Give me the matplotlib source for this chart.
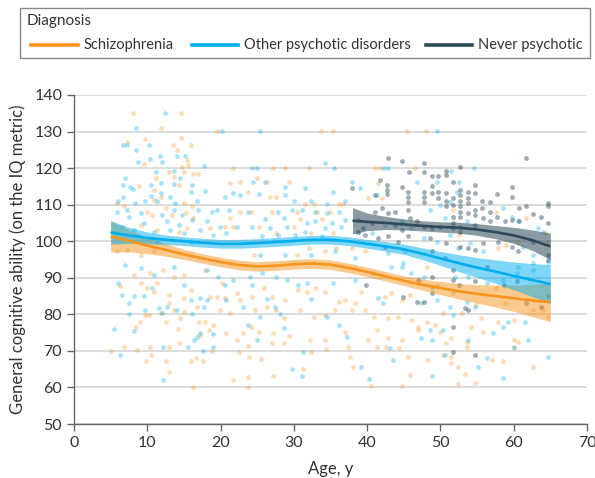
import matplotlib
matplotlib.use("Agg")
import matplotlib.pyplot as plt
from matplotlib.lines import Line2D
from matplotlib.patches import Rectangle

plt.rcParams['font.family'] = ['Lato', 'DejaVu Sans']

# ---------------- data ----------------
schiz_age = [8.0, 14.6, 11.9, 9.65, 14.6, 7.3, 13.5, 15.9, 14.0, 15.4, 15.6, 9.6, 14.8, 13.0, 15.0, 16.2, 16.9, 11.2,
             13.6, 14.3, 10.9, 8.9, 21.3, 22.7, 21.7, 19.5, 10.9, 11.9, 15.0, 16.1, 15.3, 10.6, 10.0, 6.8, 5.9, 12.5,
             13.4, 16.3, 9.1, 11.3, 14.3, 15.4, 22.7, 21.3, 20.6, 18.6, 21.7, 5.9, 7.2, 9.1, 10.9,
             5.0, 6.8, 8.6, 9.8, 10.5, 10.4, 12.9, 12.5, 13.0, 16.2, 15.9, 16.7, 17.6, 18.8, 21.7, 22.5, 20.8, 22.2,
             14.3, 14.2, 12.6, 9.0, 8.5, 6.3, 9.7, 11.9, 13.6, 14.5, 15.0, 17.1, 17.9, 18.4, 19.0, 17.2, 19.9, 21.3,
             22.7, 19.5, 16.8, 18.6, 15.0, 12.9, 12.9, 10.9, 10.0, 10.2, 12.2, 10.4, 9.1, 11.3, 8.2, 15.9, 13.6, 15.0,
             17.9, 20.2, 22.2, 23.1, 20.6,
             33.7, 35.3, 45.5, 27.2, 28.8, 32.0, 41.1, 41.7, 46.5, 25.0, 26.3, 29.3, 41.5, 23.8, 26.8, 27.5, 31.5,
             32.7, 36.1, 36.7, 42.0, 40.1, 24.1, 27.0, 30.4, 33.1, 34.9, 25.2, 30.0, 30.9, 33.8, 27.5, 32.4, 35.4,
             32.0, 35.8, 37.9, 24.5, 30.4, 34.3, 39.7,
             24.3, 25.9, 27.0, 28.8, 30.6, 31.8, 32.9, 34.3, 36.1, 37.0, 38.3, 39.2, 42.4, 43.3, 44.7, 45.8, 24.7,
             26.3, 27.5, 30.9, 32.7, 34.3, 35.6, 37.9, 39.7, 41.0, 42.9, 44.2, 46.0, 28.6, 24.1, 25.2, 27.2, 29.3,
             32.2, 34.3, 37.0, 40.1, 41.3, 42.9, 44.7, 23.8, 27.0, 28.6, 32.4, 34.4, 37.4, 41.4, 42.6, 44.4, 23.9,
             25.5, 31.3, 37.6, 38.1, 23.7, 27.2, 23.8, 40.5, 44.7, 45.9, 45.6,
             48.0, 51.7, 57.6, 61.7, 59.0, 57.9, 60.6, 64.4, 64.7, 52.6,
             48.1, 47.2, 49.5, 51.7, 54.9, 57.6, 58.8, 62.6, 64.0, 50.4, 52.9, 55.6, 57.9, 60.0, 47.0, 48.1, 49.3,
             49.9, 51.5, 53.6, 54.2, 55.8, 60.0, 60.1, 60.6, 50.8, 53.6, 50.4, 48.1, 51.5, 57.0, 58.5, 51.5, 52.4,
             62.6, 53.3, 52.4, 54.7, 64.7, 47.0]
schiz_iq = [135.0, 135.0, 130.9, 128.1, 128.3, 127.2, 126.3, 126.3, 125.0, 122.2, 120.9, 121.1, 120.2, 119.0, 119.0,
            118.4, 118.4, 117.2, 117.7, 115.4, 114.0, 115.2, 115.8, 116.1, 120.1, 130.2, 111.3, 112.2, 110.4, 109.5,
            107.6, 107.2, 108.0, 109.5, 110.4, 109.0, 107.2, 106.3, 104.4, 103.1, 102.6, 103.5, 108.0, 106.3, 104.0,
            103.5, 104.0, 97.2, 97.6, 96.3, 97.2,
            70.1, 71.0, 70.3, 67.1, 68.9, 71.0, 64.1, 67.1, 71.0, 60.1, 67.1, 68.0, 67.1, 70.1, 62.1, 69.6, 75.0,
            73.0, 72.1, 75.9, 78.0, 78.0, 76.6, 87.8, 79.8, 80.3, 81.2, 78.9, 80.7, 78.0, 78.0, 75.7, 77.1, 74.4,
            81.2, 80.3, 83.9, 84.8, 82.1, 84.8, 84.4, 85.3, 83.0, 86.2, 87.1, 79.8, 92.1, 91.2, 88.5, 88.5, 90.8,
            86.7, 90.3, 90.8, 92.1, 88.5, 85.8, 74.8, 84.4,
            130.2, 130.2, 130.2, 120.1, 120.1, 120.1, 120.1, 120.1, 120.1, 117.2, 116.1, 116.1, 115.8, 113.6, 112.0,
            112.0, 110.1, 110.1, 110.1, 110.1, 111.7, 111.7, 108.1, 108.1, 108.1, 108.1, 108.1, 104.0, 104.0, 106.1,
            106.1, 102.2, 102.2, 102.2, 98.1, 98.1, 98.1, 96.2, 96.2, 97.2, 97.2,
            84.8, 87.1, 84.8, 83.9, 86.7, 86.2, 87.1, 86.2, 83.5, 84.0, 83.0, 86.2, 84.8, 85.8, 83.9, 85.3, 81.2,
            82.1, 81.2, 81.2, 79.4, 79.8, 81.2, 81.2, 81.2, 79.4, 78.9, 79.4, 78.5, 78.9, 76.6, 75.3, 74.8, 74.1,
            73.0, 73.0, 75.3, 73.0, 75.7, 73.4, 73.0, 71.4, 72.1, 72.1, 69.8, 70.4, 71.0, 71.0, 71.0, 70.7, 68.2,
            67.7, 65.0, 68.4, 65.5, 62.8, 63.0, 60.1, 60.4, 60.5, 63.4, 68.3,
            130.2, 108.5, 108.0, 106.3, 99.0, 98.1, 99.9, 102.2, 99.9, 101.7,
            93.0, 89.4, 88.0, 85.8, 82.6, 87.1, 83.0, 81.2, 81.2, 80.3, 80.3, 78.9, 78.0, 78.5, 76.6, 78.0, 77.1,
            75.3, 73.4, 72.5, 76.6, 75.3, 73.0, 70.7, 72.5, 72.1, 71.0, 68.9, 67.5, 68.4, 67.4, 67.1, 66.6, 65.5,
            65.5, 63.7, 61.0, 61.2, 79.4, 75.7]

other_age = [12.4, 8.4, 20.2, 6.7, 7.3, 8.4, 10.2, 11.7, 15.1, 14.0, 8.7, 10.4, 12.0, 17.7, 13.6, 11.2, 7.0, 14.5,
             10.5, 11.9, 13.6, 16.1, 7.6, 8.1, 6.7, 17.9, 15.9, 10.5, 11.9, 13.1, 6.7, 6.0, 9.7, 11.3, 13.8, 8.3,
             16.8, 21.7, 22.7, 20.6, 5.9, 7.2, 9.1, 12.0, 13.6, 14.7, 16.9, 18.8, 19.5, 21.2, 7.5, 9.5, 12.7, 14.3,
             16.1, 18.1, 19.9, 22.2, 6.6, 8.2, 10.9, 13.1, 15.0, 17.2, 19.0, 20.8, 5.9, 11.3, 15.9,
             7.0, 10.9, 9.1, 6.0, 6.6, 7.5, 8.2, 9.5, 9.7, 7.5, 5.4, 6.3, 8.2, 12.2, 12.2, 11.6, 12.7, 12.0, 14.0,
             16.1, 15.9, 17.2, 18.1, 17.7, 16.8, 16.4, 17.2, 19.0, 15.6, 19.0, 17.6, 19.7, 20.8, 23.1, 10.6, 13.6,
             15.0, 18.1, 20.6, 21.7,
             25.4, 24.3, 25.0, 34.3, 35.5, 24.4, 26.1, 28.8, 31.5, 35.4, 37.9, 39.0, 41.3, 42.9, 42.3, 25.2, 28.8,
             30.0, 32.4, 34.5, 37.0, 23.8, 27.9, 29.7, 31.1, 32.9, 34.5, 36.1, 26.1, 28.6, 31.8, 32.9, 35.2, 37.0,
             24.3, 26.8, 29.0, 31.5, 34.3, 36.5, 25.6, 27.9, 30.2, 33.8, 38.8, 40.6, 42.4, 44.7, 46.0, 25.4, 28.8,
             32.4, 35.6, 38.3, 42.9, 45.1,
             24.0, 24.3, 25.6, 27.5, 29.1, 30.6, 31.8, 35.4, 38.3, 40.8, 41.5, 42.2, 43.3, 44.9, 46.0, 26.3, 27.4,
             28.1, 25.4, 28.6, 23.8, 25.0, 32.4, 34.5, 36.1, 37.2, 31.3, 29.7, 31.1, 39.1, 40.2, 43.1, 43.5, 44.7,
             49.5, 54.6, 51.5, 52.6, 49.5, 46.8, 52.2, 51.3, 48.6, 50.0, 50.6, 53.6, 58.5, 59.7, 60.6, 63.3, 47.7,
             49.5, 51.3, 54.0, 55.8, 61.3, 62.6, 64.0, 52.4,
             47.7, 48.8, 47.4, 49.5, 51.3, 51.7, 53.6, 54.7, 52.0, 53.8, 56.3, 58.5, 60.4, 62.6, 48.6, 50.4, 48.8,
             47.4, 53.8, 57.2, 58.5, 59.2, 61.5, 62.0, 60.1, 50.6, 48.8, 55.1, 56.3, 58.5, 64.7, 62.6, 60.6, 64.7]
other_iq = [135.0, 131.1, 130.2, 126.3, 126.3, 125.0, 126.3, 123.3, 123.3, 123.3, 121.8, 122.4, 121.8, 120.6, 119.2,
            118.9, 117.2, 117.4, 115.4, 115.8, 115.6, 115.4, 114.9, 114.3, 115.4, 113.8, 113.6, 112.5, 113.1, 112.2,
            112.2, 111.0, 111.0, 111.0, 110.4, 110.4, 111.0, 113.1, 112.7, 112.2, 108.0, 108.5, 107.6, 107.2, 108.5,
            107.2, 108.5, 108.0, 108.5, 108.5, 106.7, 104.9, 105.4, 104.4, 105.8, 105.4, 104.0, 104.0, 104.0, 103.1,
            102.6, 103.1, 102.2, 103.1, 101.7, 102.2, 102.2, 99.9, 99.9,
            93.5, 90.8, 92.6, 88.7, 85.3, 83.0, 85.0, 85.0, 81.2, 80.1, 76.0, 68.9, 75.4, 71.0, 62.1, 81.7, 82.1,
            80.3, 81.2, 80.1, 83.9, 84.4, 83.9, 82.1, 73.9, 73.0, 75.0, 71.0, 71.0, 74.6, 70.1, 90.3, 83.9, 82.1,
            87.1, 93.0, 88.0, 92.1, 88.0, 89.4,
            130.2, 120.1, 120.1, 121.3, 120.1, 116.1, 116.1, 114.7, 114.5, 113.6, 116.1, 114.5, 112.7, 120.1, 120.1,
            112.8, 112.7, 111.0, 111.0, 110.1, 111.0, 108.1, 108.1, 108.5, 108.5, 108.1, 107.6, 108.1, 106.1, 106.3,
            104.9, 105.4, 104.9, 105.8, 104.0, 103.5, 104.0, 102.6, 103.5, 104.0, 101.3, 101.7, 101.7, 101.3, 102.6,
            102.2, 104.4, 105.4, 103.5, 96.2, 96.2, 96.2, 97.2, 95.3, 96.7, 97.2,
            90.3, 88.0, 91.2, 90.3, 89.4, 88.0, 88.7, 88.5, 89.4, 91.2, 84.4, 83.0, 93.0, 94.0, 91.2, 84.1, 82.1,
            80.1, 79.2, 76.2, 77.1, 73.0, 84.1, 79.4, 77.1, 73.9, 69.8, 65.0, 63.0, 65.5, 62.3, 70.8, 67.4, 93.0,
            130.2, 120.1, 119.2, 116.1, 116.1, 116.1, 113.6, 110.8, 108.5, 109.9, 106.3, 105.4, 109.0, 106.7, 105.4,
            103.5, 100.8, 99.9, 101.7, 99.4, 97.2, 98.5, 96.2, 102.6, 98.1,
            90.3, 87.6, 83.0, 84.0, 82.1, 79.8, 83.5, 82.1, 90.3, 90.3, 88.5, 89.4, 91.2, 92.1, 75.7, 75.7, 73.0,
            73.4, 73.0, 75.0, 76.6, 78.0, 78.0, 73.0, 71.2, 68.9, 63.0, 65.7, 68.0, 62.5, 68.4, 94.0, 93.0, 94.4]

never_age = [42.8, 44.7, 45.7, 42.7, 42.7, 42.7, 44.7, 45.6, 45.6, 45.6, 41.7, 41.1, 37.9, 38.8, 39.5, 40.6, 41.1,
             42.0, 42.9, 43.8, 43.8, 44.7, 45.6, 45.8, 38.8, 39.7, 41.5, 42.9, 44.2, 45.6, 42.4, 39.9, 44.9,
             47.8, 47.7, 48.8, 49.7, 50.7, 50.7, 52.7, 51.7, 48.8, 47.7, 47.7, 47.7, 48.8, 49.7, 49.7, 50.7, 50.7,
             50.7, 51.7, 51.7, 52.7, 52.7, 52.7, 52.7, 52.7, 52.7, 53.8, 53.8, 53.8, 54.7, 54.7, 54.7, 54.7, 55.7,
             55.7, 56.7, 56.7, 57.7, 57.7, 59.7, 59.7, 60.7, 61.7, 61.7, 62.6, 63.7, 64.7, 64.7, 64.7, 51.7, 51.7,
             51.7, 52.7, 52.7, 49.9, 48.8, 47.7, 46.8, 53.8, 54.7, 55.8, 56.7, 58.8, 59.7, 60.7, 48.6, 50.8, 52.7,
             53.8, 55.8, 57.9, 59.7, 60.6, 62.6, 64.7, 64.7, 48.8, 50.6, 54.7,
             48.8, 48.8, 51.7, 51.7, 52.6, 53.8, 54.7, 56.3, 58.7, 61.7, 63.7, 64.7, 51.7, 54.7, 47.7, 46.8, 53.3,
             51.7, 60.4, 47.0]
never_iq = [122.9, 122.0, 119.0, 115.4, 114.0, 112.8, 114.9, 113.6, 112.2, 110.8, 116.8, 112.7, 114.5, 105.8, 103.5,
            104.9, 108.1, 109.0, 107.6, 108.1, 104.4, 103.1, 108.5, 106.3, 102.6, 101.7, 100.8, 101.3, 99.9, 101.3,
            98.5, 88.0, 84.7,
            121.5, 118.9, 117.9, 117.9, 119.2, 118.1, 120.4, 116.1, 115.2, 113.4, 112.2, 110.8, 113.1, 113.4, 111.7,
            113.1, 111.0, 109.5, 111.7, 109.9, 114.0, 112.7, 111.0, 109.5, 108.1, 106.7, 113.4, 111.7, 110.4, 115.4,
            113.1, 108.5, 107.2, 111.0, 109.0, 110.6, 108.1, 113.0, 106.7, 114.8, 112.2, 109.2, 122.9, 109.5, 107.4,
            106.7, 110.4, 109.5, 105.0, 106.7, 104.9, 103.5, 104.0, 102.6, 104.0, 103.5, 104.0, 105.4, 107.6, 104.4,
            106.3, 105.4, 105.4, 105.8, 105.4, 100.8, 99.4, 98.5, 98.1, 99.4, 99.9, 98.5, 97.2, 99.9, 96.2, 94.9,
            97.2, 95.3, 97.6,
            90.3, 85.8, 92.1, 89.4, 88.0, 81.2, 89.0, 93.0, 88.0, 83.0, 82.1, 85.0, 69.8, 68.9, 83.5, 83.5, 81.6,
            76.6, 89.0, 89.4]

# smoothed fits with 95% CI
schiz_fit_age = [5, 7.5, 10, 12.5, 15, 17.5, 20, 22.5, 25, 27.5, 30, 32.5, 35, 37.5, 40, 42.5, 45, 47.5, 50, 52.5,
                 55, 57.5, 60, 62.5, 65]
schiz_fit = [101.3, 100.1, 98.8, 97.6, 96.4, 95.3, 94.3, 93.5, 93.1, 93.3, 93.7, 93.9, 93.6, 92.7, 91.6, 90.4, 89.2,
             88.1, 87.2, 86.3, 85.6, 85.0, 84.4, 83.8, 83.3]
schiz_half = [4.3, 3.0, 2.2, 1.7, 1.4, 1.3, 1.3, 1.3, 1.3, 1.3, 1.3, 1.3, 1.3, 1.3, 1.3, 1.3, 1.3, 1.5, 1.8, 2.1,
              2.5, 3.0, 3.6, 4.4, 5.3]

other_fit_age = schiz_fit_age
other_fit = [102.4, 101.6, 100.9, 100.4, 100.0, 99.6, 99.3, 99.3, 99.5, 99.8, 100.1, 100.4, 100.4, 100.0, 99.3, 98.6,
             97.8, 96.6, 95.3, 94.0, 92.8, 91.7, 90.5, 89.4, 88.3]
other_half = [3.2, 2.2, 1.6, 1.3, 1.2, 1.2, 1.2, 1.2, 1.2, 1.2, 1.2, 1.2, 1.2, 1.2, 1.2, 1.3, 1.4, 1.6, 1.9, 2.3,
              2.7, 3.2, 3.8, 4.5, 5.3]

never_fit_age = [38, 40, 42.5, 45, 47.5, 50, 52.5, 55, 57.5, 60, 62.5, 65]
never_fit = [105.6, 105.3, 105.0, 104.6, 104.2, 103.9, 103.7, 103.2, 102.5, 101.6, 100.3, 98.6]
never_half = [3.6, 2.4, 1.8, 1.5, 1.4, 1.4, 1.5, 1.6, 1.8, 2.2, 2.8, 3.6]

labels = ["Schizophrenia", "Other psychotic disorders", "Never psychotic"]
colors = ["#F7941D", "#00AEEF", "#2C4A5A"]
x_ticks = [0, 10, 20, 30, 40, 50, 60, 70]
y_ticks = [50, 60, 70, 80, 90, 100, 110, 120, 130, 140]

# ---------------- figure ----------------
W, H = 595.0, 478.0
fig = plt.figure(figsize=(W / 100, H / 100), dpi=100)
ax = fig.add_axes([74 / W, 1 - 424 / H, (587 - 74) / W, (424 - 95) / H])

groups = [
    (schiz_age, schiz_iq, schiz_fit_age, schiz_fit, schiz_half, 0.32),
    (other_age, other_iq, other_fit_age, other_fit, other_half, 0.34),
    (never_age, never_iq, never_fit_age, never_fit, never_half, 0.45),
]
for (xa, ya, fa, fv, fh, pa), c in zip(groups, colors):
    ax.scatter(xa, ya, s=12, color=c, alpha=pa, linewidths=0, zorder=2)

band_alpha = [0.5, 0.5, 0.55]
for (xa, ya, fa, fv, fh, pa), c, ba in zip(groups, colors, band_alpha):
    lo = [v - h for v, h in zip(fv, fh)]
    hi = [v + h for v, h in zip(fv, fh)]
    ax.fill_between(fa, lo, hi, color=c, alpha=ba, linewidth=0, zorder=3)

for (xa, ya, fa, fv, fh, pa), c in zip(groups, colors):
    ax.plot(fa, fv, color=c, lw=1.9, zorder=4, solid_capstyle='butt')

ax.set_xlim(0, 70)
ax.set_ylim(50, 140)
ax.set_xticks(x_ticks)
ax.set_yticks(y_ticks)
ax.yaxis.grid(True, color="#d9d9d9", lw=1.3, zorder=0)
ax.set_axisbelow(True)
for s in ["top", "right"]:
    ax.spines[s].set_visible(False)
for s in ["left", "bottom"]:
    ax.spines[s].set_color("#666666")
    ax.spines[s].set_linewidth(1.0)
ax.tick_params(axis='both', colors="#666666", labelcolor="#333333", labelsize=11.5, length=5, width=1.0)
ax.set_xlabel("Age, y", fontsize=12, color="#333333", labelpad=8)
ax.set_ylabel("General cognitive ability (on the IQ metric)", fontsize=12, color="#333333", labelpad=6)

# ---- legend box drawn in figure pixel coordinates ----
def fx(px):
    return px / W

def fy(py):
    return 1 - py / H

fig.patches.append(Rectangle((fx(20), fy(58)), fx(590) - fx(20), fy(8) - fy(58), transform=fig.transFigure,
                             facecolor="none", edgecolor="#888888", linewidth=1.0, zorder=0))
fig.text(fx(27), fy(21), "Diagnosis", fontsize=11, color="#333333", va="center", ha="left", zorder=6)
line_x = [(31, 78), (192, 238), (426, 472)]
for (x0, x1), c, lab in zip(line_x, colors, labels):
    fig.lines.append(Line2D([fx(x0), fx(x1)], [fy(45), fy(45)], transform=fig.transFigure, color=c, lw=2.6,
                            zorder=6))
    fig.text(fx(x1 + 6), fy(44.5), lab, fontsize=10.5, color="#333333", va="center", ha="left", zorder=6)

fig.savefig("out.png", dpi=100)
